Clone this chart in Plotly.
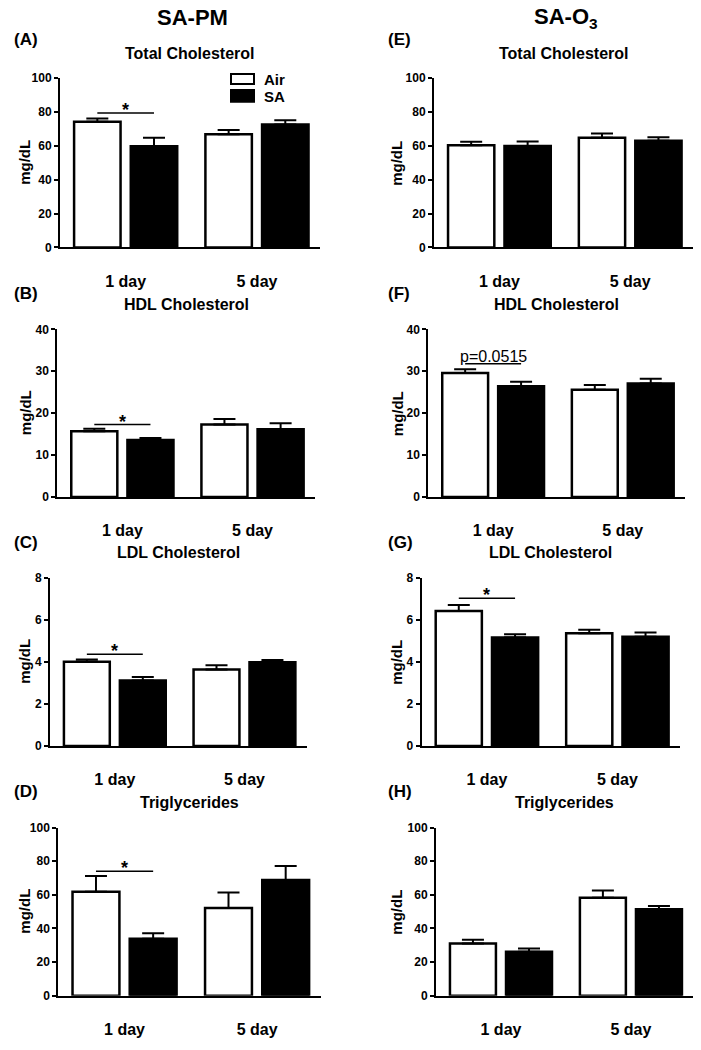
import plotly.graph_objects as go

W, H = 701, 1050
FONT = "Arial, Liberation Sans, sans-serif"

days = ["1 day", "5 day"]
groups = ["Air", "SA"]
group_fill = ["white", "black"]
analytes = ["Total Cholesterol", "HDL Cholesterol", "LDL Cholesterol", "Triglycerides"]
y_max = [100, 40, 8, 100]
y_step = [20, 10, 2, 20]
columns = ["SA-PM", "SA-O<sub>3</sub>"]
letters = [["(A)", "(B)", "(C)", "(D)"], ["(E)", "(F)", "(G)", "(H)"]]

# SA-PM column: one row per analyte, [1 day, 5 day]
pm_air_mean = [[74.3, 66.9], [15.7, 17.3], [4.00, 3.64], [61.8, 52.2]]
pm_air_sem = [[1.9, 2.5], [0.6, 1.3], [0.11, 0.20], [9.4, 9.2]]
pm_sa_mean = [[59.8, 72.7], [13.6, 16.2], [3.11, 3.98], [33.9, 68.8]]
pm_sa_sem = [[5.1, 2.5], [0.5, 1.4], [0.17, 0.10], [3.2, 8.3]]

# SA-O3 column
o3_air_mean = [[60.4, 64.9], [29.6, 25.6], [6.41, 5.36], [31.0, 58.2]]
o3_air_sem = [[2.0, 2.4], [0.9, 1.1], [0.29, 0.16], [2.3, 4.3]]
o3_sa_mean = [[60.0, 63.0], [26.4, 27.1], [5.16, 5.19], [26.1, 51.4]]
o3_sa_sem = [[2.6, 2.1], [1.1, 1.1], [0.15, 0.20], [1.9, 1.9]]

# significance brackets (all on the 1 day group)
pm_sig_rows = [0, 1, 2, 3]
pm_sig_y = [79.5, 17.3, 4.36, 74.1]
pm_sig_text = ["*", "*", "*", "*"]
o3_sig_rows = [1, 2]
o3_sig_y = [31.8, 7.02]
o3_sig_text = ["p=0.0515", "*"]

means = [[pm_air_mean, pm_sa_mean], [o3_air_mean, o3_sa_mean]]
sems = [[pm_air_sem, pm_sa_sem], [o3_air_sem, o3_sa_sem]]
sigs = [(pm_sig_rows, pm_sig_y, pm_sig_text), (o3_sig_rows, o3_sig_y, o3_sig_text)]

# ---- geometry (pixels) ----
col_x = [[(60, 320), (57.3, 315), (50, 306.7), (58.3, 320.7)],
         [(434, 693), (428.3, 685), (421.7, 680), (436, 693.3)]]
row_y = [(72.2, 243.7), (326.7, 496.7), (578.3, 749), (831.7, 1002)]
letter_x = [12, 386]
letter_y = [33, 290, 543, 795]
ytitle_x = [25, 397]
title_x = [192, 566]

BARGAP = 0.137
GROUPGAP = 0.18
slot = (1 - BARGAP) / 2
bar_off = slot / 2
bar_edge = bar_off + slot * (1 - GROUPGAP) / 2


def px(x):
    return x / W


def py(y):
    return 1 - y / H


def note(text, x, y, size, **kw):
    d = dict(text=text, x=px(x), y=py(y), xref="paper", yref="paper", showarrow=False,
             xanchor="center", yanchor="middle",
             font=dict(family=FONT, size=size, color="black"))
    d.update(kw)
    return d


fig = go.Figure()
annotations = []
shapes = []

for c in range(2):
    for r in range(4):
        k = c * 4 + r + 1
        xa = "x" if k == 1 else f"x{k}"
        ya = "y" if k == 1 else f"y{k}"
        for g in range(2):
            fig.add_trace(go.Bar(
                x=days, y=means[c][g][r], name=groups[g],
                xaxis=xa, yaxis=ya, showlegend=False, hoverinfo="skip",
                marker=dict(color=group_fill[g], line=dict(color="black", width=2.5)),
                error_y=dict(type="data", symmetric=False, array=sems[c][g][r],
                             arrayminus=[0, 0], color="black", thickness=2, width=11),
            ))
        x0, x1 = col_x[c][r]
        y0, y1 = row_y[r]
        axis_common = dict(showgrid=False, zeroline=False, showline=True,
                           linecolor="black", linewidth=2, fixedrange=True)
        fig.update_layout(**{
            ("xaxis" if k == 1 else f"xaxis{k}"): dict(
                domain=[px(x0), px(x1)], anchor=ya, range=[-0.5, 1.48],
                ticks="", ticklabelstandoff=18,
                tickfont=dict(family=FONT, size=16, color="black", weight="bold"),
                **axis_common),
            ("yaxis" if k == 1 else f"yaxis{k}"): dict(
                domain=[py(y1), py(y0)], anchor=xa, range=[0, y_max[r]],
                tick0=0, dtick=y_step[r], ticks="outside", ticklen=4, tickwidth=2,
                tickcolor="black",
                tickfont=dict(family=FONT, size=12, color="black", weight="bold"),
                **axis_common),
        })
        # group underlines under the x axis
        for i in range(len(days)):
            shapes.append(dict(type="line", xref=xa, yref=ya, ysizemode="pixel", yanchor=0,
                               x0=i - bar_edge, x1=i + bar_edge, y0=-9, y1=-9,
                               line=dict(color="black", width=2)))
        annotations.append(note(f"<b>{analytes[r]}</b>", (x0 + x1) / 2, y0 - 25, 16))
        annotations.append(note(f"<b>{letters[c][r]}</b>", letter_x[c], letter_y[r], 17,
                                xanchor="left"))
        annotations.append(note("<b>mg/dL</b>", ytitle_x[c], (y0 + y1) / 2, 15, textangle=-90))

    rows, ys, texts = sigs[c]
    for r, yv, t in zip(rows, ys, texts):
        k = c * 4 + r + 1
        xa = "x" if k == 1 else f"x{k}"
        ya = "y" if k == 1 else f"y{k}"
        shapes.append(dict(type="line", xref=xa, yref=ya, x0=-bar_off, x1=bar_off, y0=yv, y1=yv,
                           line=dict(color="black", width=1.5)))
        star = t == "*"
        annotations.append(dict(text=f"<b>{t}</b>" if star else t, x=0, y=yv, xref=xa, yref=ya,
                                showarrow=False, xanchor="center", yanchor="middle",
                                yshift=3 if star else 7,
                                font=dict(family=FONT, size=18 if star else 16, color="black")))

    annotations.append(note(f"<b>{columns[c]}</b>", title_x[c], 11, 22))

# legend in panel A
leg_box = [(68, 78), (84, 96)]
leg_text_y = [73.5, 91]
for g in range(2):
    shapes.append(dict(type="rect", xref="paper", yref="paper",
                       x0=px(231), x1=px(254), y0=py(leg_box[g][1]), y1=py(leg_box[g][0]),
                       fillcolor=group_fill[g], line=dict(color="black", width=2)))
    annotations.append(note(f"<b>{groups[g]}</b>", 262, leg_text_y[g], 15, xanchor="left"))

fig.update_layout(
    width=W, height=H, autosize=False,
    margin=dict(l=0, r=0, t=0, b=0),
    paper_bgcolor="white", plot_bgcolor="white",
    barmode="group", bargap=BARGAP, bargroupgap=GROUPGAP,
    showlegend=False,
    annotations=annotations, shapes=shapes,
    font=dict(family=FONT, color="black"),
)

fig.write_html("out.html", post_script="document.body.style.margin='0';",
               config={"displayModeBar": False})
